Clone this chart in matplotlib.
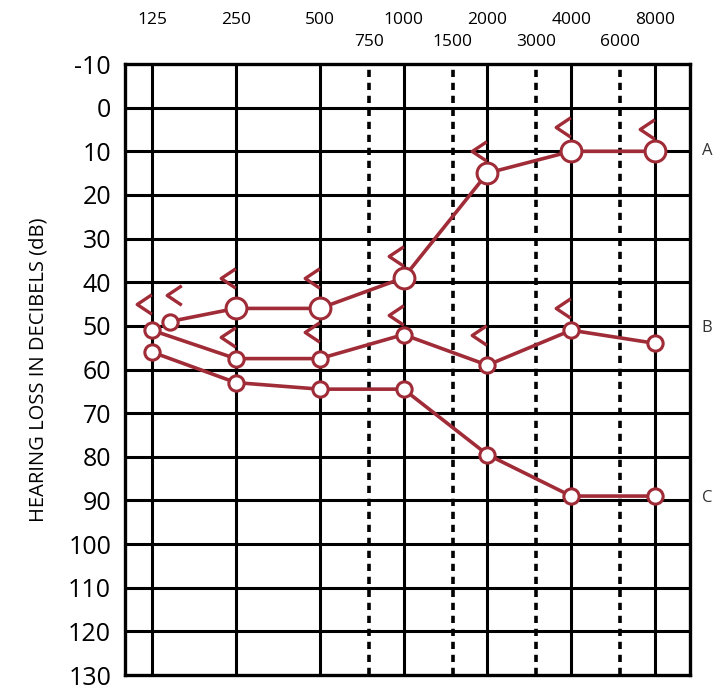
import matplotlib.pyplot as plt
from matplotlib.path import Path
from matplotlib.transforms import ScaledTranslation

# frequencies (Hz)
main_freqs = [125, 250, 500, 1000, 2000, 4000, 8000]
mid_freqs = [750, 1500, 3000, 6000]
db_ticks = list(range(-10, 140, 10))

# air conduction thresholds (dB HL)
freq_a = [145, 250, 500, 1000, 2000, 4000, 8000]
db_a = [49, 46, 46, 39, 15, 10, 10]
freq_b = [125, 250, 500, 1000, 2000, 4000, 8000]
db_b = [51, 57.5, 57.5, 52, 59, 51, 54]
freq_c = [125, 250, 500, 1000, 2000, 4000, 8000]
db_c = [56, 63, 64.5, 64.5, 79.5, 89, 89]

# bone conduction thresholds ("<" marks)
bc_freq_a = [160, 250, 500, 1000, 2000, 4000, 8000]
bc_db_a = [43, 39, 39, 34, 10, 4.5, 5]
bc_freq_b = [125, 250, 500, 1000, 2000, 4000]
bc_db_b = [45, 52.5, 51.5, 47.5, 52, 46]

curve_labels = ["A", "B", "C"]
curve_label_db = [10, 50.5, 89.5]

red = "#a02c38"
plt.rcParams['font.family'] = ['Open Sans', 'DejaVu Sans']

fig = plt.figure(figsize=(7.23, 6.89), dpi=100)
ax = fig.add_axes([0.1729, 0.0203, 0.7815, 0.8868])
ax.set_xscale('log', base=2)
ax.set_xlim(100, 10680)
ax.set_ylim(130, -10)

# grid
for f in main_freqs:
    ax.axvline(f, color='black', lw=2.2, zorder=1)
for f in mid_freqs:
    ax.axvline(f, color='black', lw=2.6, ls=(0, (2.0, 1.6)), zorder=1)
for d in db_ticks[1:-1]:
    ax.axhline(d, color='black', lw=2.2, zorder=1)
for s in ax.spines.values():
    s.set_linewidth(2.4)

ax.set_xticks([])
ax.minorticks_off()
ax.set_yticks(db_ticks)
ax.set_yticklabels([str(d) for d in db_ticks], fontsize=18)
ax.tick_params(axis='y', length=0, pad=10)
ax.set_ylabel("HEARING LOSS IN DECIBELS (dB)", fontsize=14.5, labelpad=14)

# frequency labels across the top
xt = ax.get_xaxis_transform()
for f in main_freqs:
    ax.text(f, 1.072, str(f), transform=xt, ha='center', va='center', fontsize=12.5)
for f in mid_freqs:
    ax.text(f, 1.036, str(f), transform=xt, ha='center', va='center', fontsize=12.5)

# air conduction curves
ax.plot(freq_a, db_a, color=red, lw=2.6, zorder=3)
ax.plot(freq_a[1:], db_a[1:], 'o', ms=15, mfc='white', mec=red, mew=2.2, zorder=4)
ax.plot(freq_a[:1], db_a[:1], 'o', ms=11, mfc='white', mec=red, mew=2.2, zorder=4)
for fx, dy in [(freq_b, db_b), (freq_c, db_c)]:
    ax.plot(fx, dy, color=red, lw=2.6, zorder=3)
    ax.plot(fx, dy, 'o', ms=11, mfc='white', mec=red, mew=2.2, zorder=4)

# bone conduction marks, drawn just left of the frequency line
lt = Path([(0.75, 1.0), (-0.75, 0.0), (0.75, -1.0)], [Path.MOVETO, Path.LINETO, Path.LINETO])
shift = ax.transData + ScaledTranslation(-0.08, 0, fig.dpi_scale_trans)
for fx, dy in [(bc_freq_a, bc_db_a), (bc_freq_b, bc_db_b)]:
    ax.plot(fx, dy, ls='none', marker=lt, ms=14, mfc='none', mec=red, mew=2.4,
            transform=shift, zorder=5)

# curve names on the right
yt = ax.get_yaxis_transform()
for lab, d in zip(curve_labels, curve_label_db):
    ax.text(1.03, d, lab, transform=yt, ha='center', va='center', fontsize=12, color='#333333')

fig.savefig("out.png", dpi=100)
